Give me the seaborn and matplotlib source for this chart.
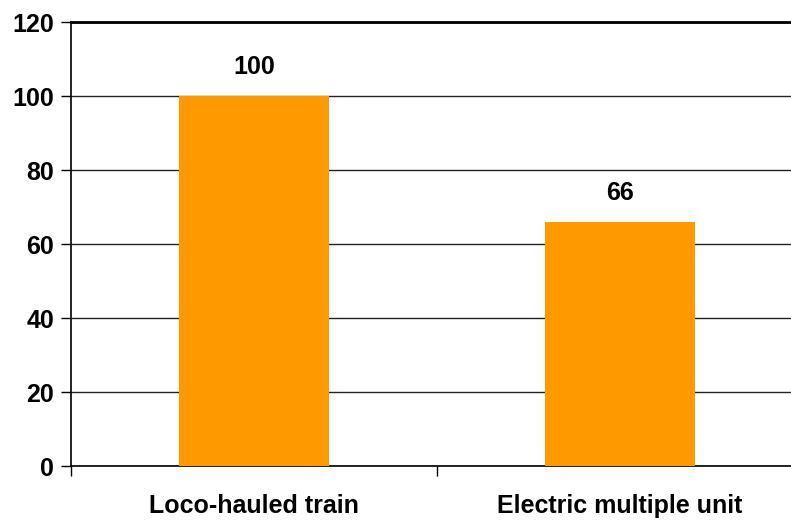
import numpy as np
import pandas as pd
import matplotlib
matplotlib.use("Agg")
import matplotlib.pyplot as plt
import seaborn as sns

sns.set_theme(style="white")
plt.rcParams["font.family"] = ["Liberation Sans", "DejaVu Sans"]
plt.rcParams["text.color"] = "black"
plt.rcParams["xtick.color"] = "black"
plt.rcParams["ytick.color"] = "black"

categories = ["Loco-hauled train", "Electric multiple unit"]
values = [100, 66]
yticks = [0, 20, 40, 60, 80, 100, 120]

df = pd.DataFrame({"type": categories, "value": values})

fig = plt.figure(figsize=(7.91, 5.2), dpi=100)
ax = fig.add_axes([71 / 791, 54 / 520, 732 / 791, 444 / 520])

sns.barplot(data=df, x="type", y="value", color="#FF9900", width=0.41,
            saturation=1, edgecolor="none", linewidth=0, ax=ax, zorder=3)

ax.set_xlim(-0.5, 1.5)
ax.set_ylim(0, 120)
ax.set_yticks(yticks)
ax.yaxis.grid(True, color="#222222", linewidth=1, zorder=0)
ax.xaxis.grid(False)

ax.spines["right"].set_visible(False)
ax.spines["top"].set_linewidth(2)
ax.spines["top"].set_color("black")
for s in ["left", "bottom"]:
    ax.spines[s].set_color("black")
    ax.spines[s].set_linewidth(1.2)

ax.tick_params(axis="y", which="major", left=True, length=7, width=1,
               labelsize=18, pad=5)
ax.tick_params(axis="x", which="major", bottom=False, labelsize=18, pad=14)
ax.set_xticks([-0.5, 0.5, 1.5], minor=True)
ax.tick_params(axis="x", which="minor", bottom=True, length=7, width=1)
for lab in ax.get_xticklabels() + ax.get_yticklabels():
    lab.set_fontweight("bold")

ax.bar_label(ax.containers[0], padding=12, fontsize=18, fontweight="bold")

ax.set_xlabel("")
ax.set_ylabel("")

fig.savefig("out.png", dpi=100)
